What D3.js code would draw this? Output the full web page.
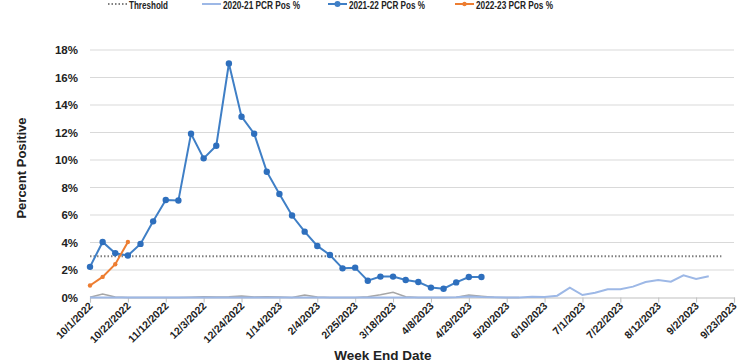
<!DOCTYPE html>
<html><head><meta charset="utf-8">
<script src="https://cdn.jsdelivr.net/npm/d3@7"></script>
<style>
html,body{margin:0;padding:0;background:#fff;}
svg{display:block;}
text{font-family:"Liberation Sans",Arial,sans-serif;font-weight:bold;fill:#222;}
</style></head>
<body>
<svg id="chart" width="741" height="364"></svg>
<script>
const tickLabels = ["10/1/2022","10/22/2022","11/12/2022","12/3/2022","12/24/2022","1/14/2023","2/4/2023","2/25/2023","3/18/2023","4/8/2023","4/29/2023","5/20/2023","6/10/2023","7/1/2023","7/22/2023","8/12/2023","9/2/2023","9/23/2023"];
const yTicks = [0,2,4,6,8,10,12,14,16,18];
const threshold = 3;
const thresholdWeeks = 51;
const pos2021 = [0,0,0,0,0,0,0,0,0,0,0,0,0,0,0,0,0,0,0,0,0,0,0,0,0,0,0,0,0,0.02,0.08,0.03,0.01,0,0,0.06,0.04,0.13,0.72,0.18,0.35,0.6,0.6,0.79,1.13,1.27,1.15,1.61,1.35,1.54];
const pos2122 = [2.23,4.04,3.22,3.05,3.9,5.54,7.09,7.05,11.91,10.12,11.04,17.02,13.15,11.91,9.15,7.53,5.96,4.79,3.75,3.09,2.12,2.17,1.22,1.52,1.52,1.27,1.13,0.72,0.64,1.1,1.49,1.49];
const pos2223 = [0.87,1.5,2.42,4.04];
const posOther = [0.02,0.25,0.03,0,0,0,0,0,0.02,0.06,0.03,0.05,0.1,0.03,0.06,0.04,0,0.18,0.03,0,0,0,0.05,0.2,0.38,0.05,0,0,0,0.02,0.18,0.1,0.02,0,0];

const svg = d3.select("#chart");
const x = d3.scaleLinear().domain([0,51]).range([90,734]);
const y = d3.scaleLinear().domain([0,18]).range([297.5,50]);

// gridlines
svg.append("g").selectAll("line").data(yTicks.filter(d=>d>0)).join("line")
  .attr("x1",90).attr("x2",734).attr("y1",d=>y(d)).attr("y2",d=>y(d))
  .attr("stroke","#d9d9d9").attr("stroke-width",1);

// y axis labels
svg.append("g").selectAll("text").data(yTicks).join("text")
  .attr("x",78).attr("y",d=>y(d)+4).attr("text-anchor","end")
  .style("font-size","11.5px").text(d=>d+"%");

// x axis line + ticks
const xAxis = d3.axisBottom(x).tickValues(d3.range(0,52,3)).tickSize(5).tickFormat(()=> "");
const gx = svg.append("g").attr("transform",`translate(0,${y(0)})`).call(xAxis);
gx.select(".domain").attr("stroke","#bfbfbf").attr("stroke-width",1.2);
gx.selectAll(".tick line").attr("stroke","#bfbfbf");
gx.selectAll(".tick").append("text")
  .attr("transform","translate(3,9) rotate(-45)")
  .attr("text-anchor","end").attr("fill","#222")
  .style("font-size","10.5px")
  .text((d,i)=>tickLabels[i]);

// threshold
svg.append("line").attr("x1",x(0)).attr("x2",x(thresholdWeeks-1))
  .attr("y1",y(threshold)).attr("y2",y(threshold))
  .attr("stroke","#7f7f7f").attr("stroke-width",2).attr("stroke-dasharray","1.5,2");

const line = d3.line().x((d,i)=>x(i)).y(d=>y(d));
svg.append("path").datum(posOther).attr("d",line).attr("fill","none").attr("stroke","#a6a6a6").attr("stroke-width",1.5);
svg.append("path").datum(pos2021).attr("d",line).attr("fill","none").attr("stroke","#9db8e6").attr("stroke-width",2);
svg.append("path").datum(pos2122).attr("d",line).attr("fill","none").attr("stroke","#3f7fc6").attr("stroke-width",2);
svg.append("g").selectAll("circle").data(pos2122).join("circle")
  .attr("cx",(d,i)=>x(i)).attr("cy",d=>y(d)).attr("r",3.2).attr("fill","#2e6fbd");
svg.append("path").datum(pos2223).attr("d",line).attr("fill","none").attr("stroke","#ed7d31").attr("stroke-width",2);
svg.append("g").selectAll("circle").data(pos2223).join("circle")
  .attr("cx",(d,i)=>x(i)).attr("cy",d=>y(d)).attr("r",2.2).attr("fill","#ed7d31");

// axis titles
svg.append("text").attr("transform","translate(26,168) rotate(-90)").attr("text-anchor","middle")
  .style("font-size","13px").text("Percent Positive");
svg.append("text").attr("x",383).attr("y",360).attr("text-anchor","middle")
  .style("font-size","13.5px").text("Week End Date");

// legend
const legend = [
  {name:"Threshold", x:108, w:39, color:"#7f7f7f", dash:"1.5,2", marker:0},
  {name:"2020-21 PCR Pos %", x:202, w:77, color:"#9db8e6", dash:null, marker:0},
  {name:"2021-22 PCR Pos %", x:328, w:76, color:"#3f7fc6", dash:null, marker:3},
  {name:"2022-23 PCR Pos %", x:455, w:77, color:"#ed7d31", dash:null, marker:2.2}
];
const lg = svg.append("g").selectAll("g").data(legend).join("g").attr("transform",d=>`translate(${d.x},4)`);
lg.append("line").attr("x1",0).attr("x2",19).attr("y1",0).attr("y2",0)
  .attr("stroke",d=>d.color).attr("stroke-width",2).attr("stroke-dasharray",d=>d.dash);
lg.filter(d=>d.marker>0).append("circle").attr("cx",9.5).attr("cy",0).attr("r",d=>d.marker).attr("fill",d=>d.color);
lg.append("text").attr("x",21).attr("y",4.5).style("font-size","11px")
  .attr("textLength",d=>d.w).attr("lengthAdjust","spacingAndGlyphs").text(d=>d.name);
</script>
</body></html>
